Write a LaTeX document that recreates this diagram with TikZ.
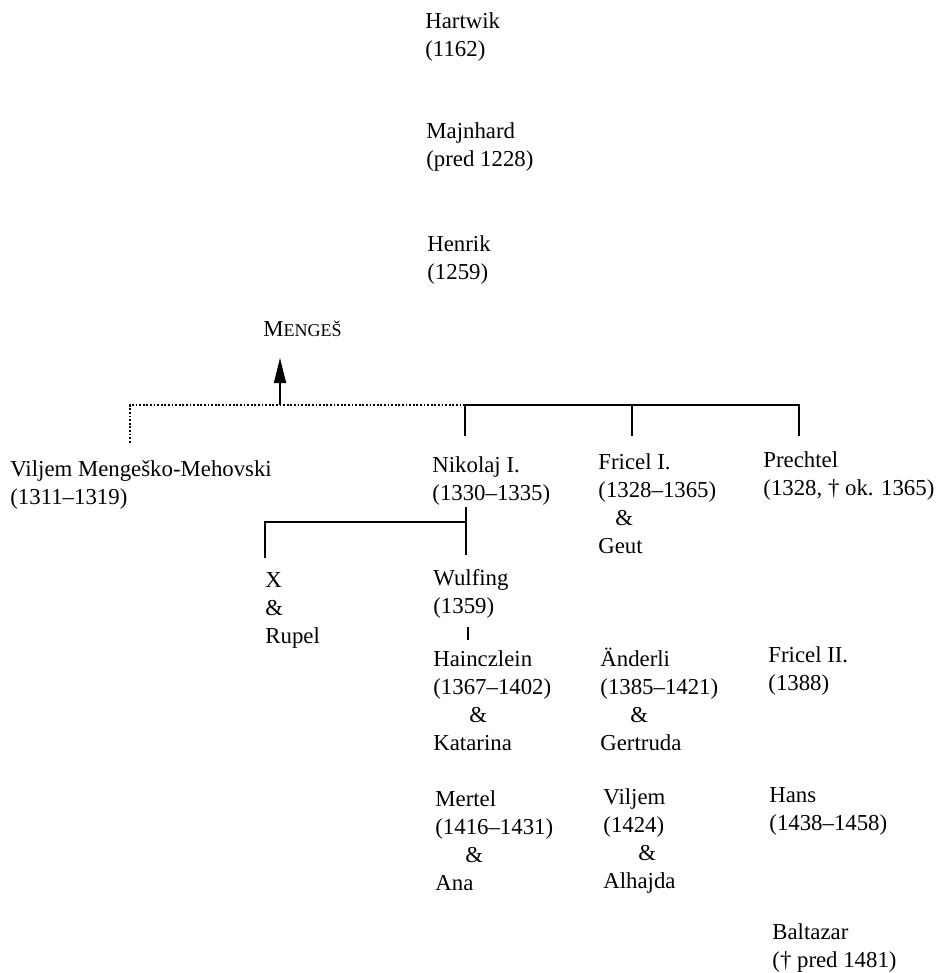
\documentclass[tikz,border=0pt]{standalone}
\usepackage{fontspec}
\setmainfont{Liberation Serif}
\usetikzlibrary{arrows.meta}

\begin{document}
\begin{tikzpicture}[x=0.5pt, y=-0.5pt, font=\fontsize{11.4}{14}\selectfont,
    person/.style={anchor=base west, align=left, inner sep=0pt},
    link/.style={line width=0.9pt},
    faint/.style={line width=0.9pt, dash pattern=on 0.9pt off 0.9pt}]
  \useasboundingbox (0,0) rectangle (943,973);
  \foreach \name/\xx/\yy/\txt in
    {hartwik/425/57/{Hartwik\\(1162)},
     majnhard/426/167/{Majnhard\\(pred 1228)},
     henrik/427/279/{Henrik\\(1259)},
     viljemmm/10/504/{Viljem Mengeško-Mehovski\\(1311–1319)},
     nikolaj/432/500/{Nikolaj I.\\(1330–1335)},
     fricel/598/553/{Fricel I.\\(1328–1365)\\\hspace*{8.5pt}\&\\Geut},
     prechtel/763/495/{Prechtel\\(1328, † ok. 1365)},
     xrupel/265/643/{X\\\&\\Rupel},
     wulfing/433/613/{Wulfing\\(1359)},
     hainczlein/433/750/{Hainczlein\\(1367–1402)\\\hspace*{18pt}\&\\Katarina},
     anderli/600/750/{Änderli\\(1385–1421)\\\hspace*{15pt}\&\\Gertruda},
     fricelii/768/690/{Fricel II.\\(1388)},
     mertel/435/890/{Mertel\\(1416–1431)\\\hspace*{15pt}\&\\Ana},
     viljem/603/888/{Viljem\\(1424)\\\hspace*{17.5pt}\&\\Alhajda},
     hans/769/830/{Hans\\(1438–1458)},
     baltazar/772/967/{Baltazar\\(† pred 1481)}}{%
    \node[person] (\name) at (\xx,\yy) {\txt};}
  \node[person] (menges) at (263,336)
    {M{\fontsize{9}{14}\selectfont ENGEŠ}};

  \coordinate (fork) at (465,405);
  \coordinate (menfoot) at (280,405);
  \coordinate (mentip) at (280,358);
  \coordinate (vdrop) at (130,443);
  \coordinate (ndrop) at (465,436);
  \coordinate (fdrop) at (632,436);
  \coordinate (pdrop) at (799,436);
  \draw[faint] (fork) -| (vdrop);
  \draw[link, -{Triangle[length=12.5pt, width=6pt]}] (menfoot) -- (mentip);
  \draw[link] (ndrop) |- (pdrop |- fork) -- (pdrop);
  \draw[link] (fdrop) -- (fdrop |- fork);

  \coordinate (nfoot) at (466,507);
  \coordinate (xbar) at (466,522);
  \coordinate (wtop) at (466,555);
  \coordinate (xtop) at (265,558);
  \coordinate (ticka) at (468,627);
  \coordinate (tickb) at (468,640);
  \draw[link] (nfoot) -- (wtop);
  \draw[link] (xbar) -| (xtop);
  \draw[line width=0.7pt] (ticka) -- (tickb);
\end{tikzpicture}
\end{document}
